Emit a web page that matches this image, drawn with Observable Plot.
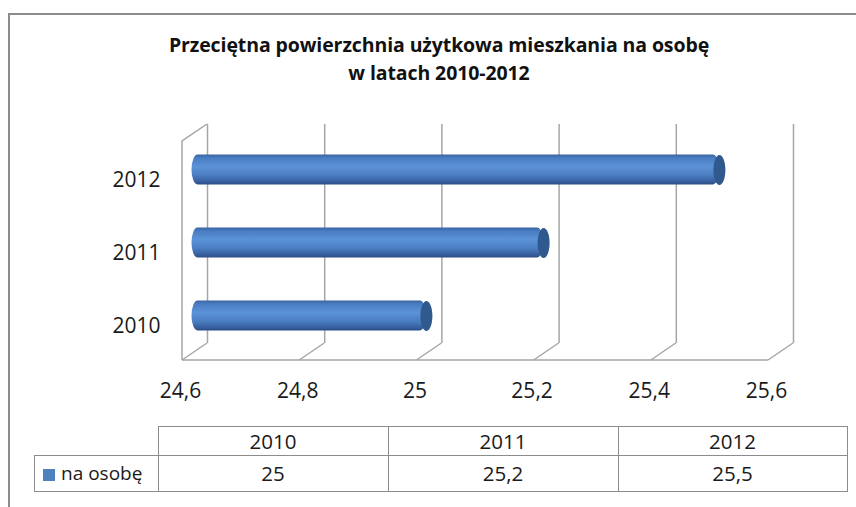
<!DOCTYPE html>
<html><head><meta charset="utf-8">
<script src="https://cdn.jsdelivr.net/npm/d3@7"></script>
<script src="https://cdn.jsdelivr.net/npm/@observablehq/plot@0.6"></script>
<style>
body{margin:0;background:#fff;font-family:"Open Sans",sans-serif;}
#wrap{position:relative;width:856px;height:507px;overflow:hidden;background:#fff;}
#frame{position:absolute;left:8px;top:13px;width:900px;height:600px;border-left:2px solid #8c8c8c;border-top:2px solid #8c8c8c;}
#title{position:absolute;left:0;width:878px;top:31px;text-align:center;font-weight:bold;font-size:19.5px;line-height:28px;color:#111;letter-spacing:-0.1px;}
#chart{position:absolute;left:0;top:0;}
#tbl{position:absolute;left:34px;top:426px;border-collapse:collapse;font-size:20.5px;color:#1a1a1a;}
#tbl td{border:1.5px solid #8c8c8c;text-align:center;padding:0;line-height:1;}
#tbl td.blank{border:none;border-right:1.5px solid #8c8c8c;border-bottom:1.5px solid #8c8c8c;}
#tbl td.leg{text-align:left;padding-left:8px;white-space:nowrap;font-size:19px;}
#tbl .sw{display:inline-block;width:12px;height:12px;background:#4f81bd;margin-right:6px;vertical-align:-1px;}
</style></head>
<body>
<div id="wrap">
  <div id="frame"></div>
  <div id="chart"></div>
  <div id="title"></div>
  <table id="tbl"></table>
</div>
<script>
const titleLines = ["Przeciętna powierzchnia użytkowa mieszkania na osobę", "w latach 2010-2012"];
const years = ["2010", "2011", "2012"];
const values = [25, 25.2, 25.5];
const xTicks = [24.6, 24.8, 25, 25.2, 25.4, 25.6];
const seriesName = "na osobę";

const fmt = d => String(+d.toFixed(1)).replace(".", ",");
const data = years.map((y, i) => ({year: y, value: values[i]}));

document.getElementById("title").innerHTML = titleLines.join("<br>");

const DX = -25, DY = 17;           // depth offset of the 3D box
const W = 856, H = 420;
const GRID = "#a6a6a6";

const ellipse = {
  draw(ctx) {
    const rx = 6, ry = 15, k = 0.5523;
    ctx.moveTo(rx, 0);
    ctx.bezierCurveTo(rx, ry * k, rx * k, ry, 0, ry);
    ctx.bezierCurveTo(-rx * k, ry, -rx, ry * k, -rx, 0);
    ctx.bezierCurveTo(-rx, -ry * k, -rx * k, -ry, 0, -ry);
    ctx.bezierCurveTo(rx * k, -ry, rx, -ry * k, rx, 0);
    ctx.closePath();
  }
};

const defs = () => {
  const d = d3.create("svg:defs");
  const g = d.append("linearGradient").attr("id", "cylGrad")
    .attr("x1", 0).attr("y1", 0).attr("x2", 0).attr("y2", 1);
  [[0, "#3a64a3"], [0.12, "#4a7dc2"], [0.4, "#5c93d8"], [0.7, "#4a7cc0"], [0.9, "#375fa0"], [1, "#2a4d82"]]
    .forEach(([o, c]) => g.append("stop").attr("offset", o).attr("stop-color", c));
  return d.node();
};

const box = (index, {x}, values, dims) => {
  const g = d3.create("svg:g").attr("fill", "none").attr("stroke", GRID).attr("stroke-width", 1.5);
  const top = dims.marginTop, bot = dims.height - dims.marginBottom;
  const x0 = x(xTicks[0]), x1 = x(xTicks[xTicks.length - 1]);
  for (const t of xTicks) {
    g.append("line").attr("x1", x(t)).attr("y1", bot).attr("x2", x(t) + DX).attr("y2", bot + DY);
  }
  g.append("line").attr("x1", x0 + DX).attr("y1", bot + DY).attr("x2", x1 + DX).attr("y2", bot + DY);
  g.append("polyline").attr("points", `${x0},${top} ${x0 + DX},${top + DY} ${x0 + DX},${bot + DY}`);
  return g.node();
};

const chart = Plot.plot({
  width: W, height: H,
  marginTop: 124, marginBottom: H - 343, marginLeft: 182, marginRight: 0,
  style: {fontFamily: "Open Sans", color: "#1a1a1a", background: "transparent"},
  x: {domain: [xTicks[0], xTicks[xTicks.length - 1]], range: [207, 793]},
  y: {type: "band", domain: [...years].reverse(), paddingInner: 0.59, paddingOuter: 0.295},
  marks: [
    defs,
    Plot.ruleX(xTicks, {stroke: GRID, strokeWidth: 1.5}),
    box,
    Plot.barX(data, {x1: () => xTicks[0], x2: "value", y: "year", dx: DX / 2 - 3, dy: DY / 2,
      fill: "url(#cylGrad)", rx: 6, ry: 15}),
    Plot.dot(data, {x: "value", y: "year", dx: DX / 2 - 3, dy: DY / 2, symbol: ellipse, fill: "#30598e", stroke: "none"}),
    Plot.axisX({ticks: xTicks, tickFormat: fmt, tickSize: 0, tickPadding: 40, dx: DX - 2, fontSize: 21, label: null}),
    Plot.axisY({tickSize: 0, tickPadding: 22, dy: 19, fontSize: 21, label: null})
  ]
});
document.getElementById("chart").append(chart);

// data table
const tbl = d3.select("#tbl");
const colW = [123, 229, 229, 228];
const r1 = tbl.append("tr").style("height", "29px");
r1.append("td").attr("class", "blank").style("width", colW[0] + "px");
years.forEach((y, i) => r1.append("td").style("width", colW[i + 1] + "px").text(y));
const r2 = tbl.append("tr").style("height", "36px");
const lc = r2.append("td").attr("class", "leg");
lc.append("span").attr("class", "sw");
lc.append("span").text(seriesName);
values.forEach(v => r2.append("td").text(fmt(v)));
</script>
</body></html>
